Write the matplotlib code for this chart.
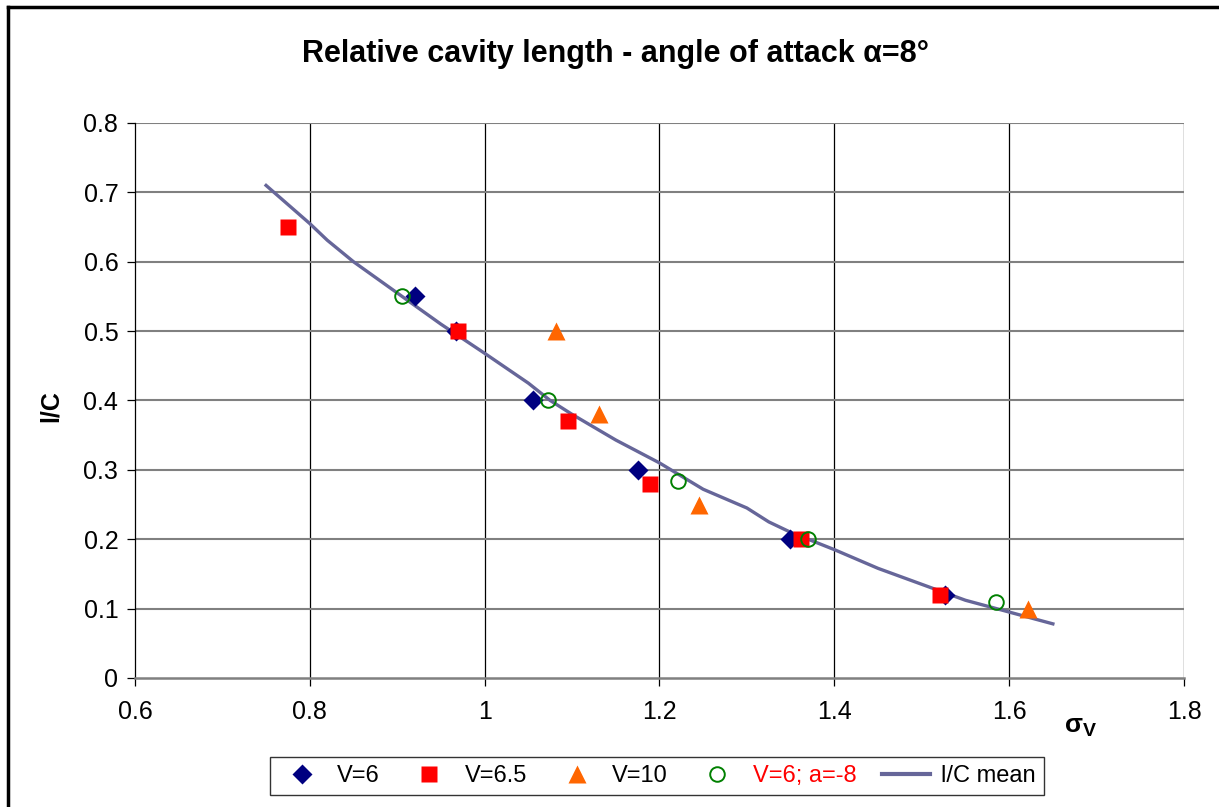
import matplotlib.pyplot as plt
from matplotlib.lines import Line2D

plt.rcParams['font.family'] = ['Liberation Sans', 'DejaVu Sans']

# measured points per velocity
v6_x = [0.92, 0.967, 1.055, 1.176, 1.349, 1.527]
v6_y = [0.55, 0.50, 0.40, 0.30, 0.20, 0.12]

v65_x = [0.775, 0.97, 1.095, 1.189, 1.362, 1.521]
v65_y = [0.65, 0.50, 0.37, 0.28, 0.20, 0.12]

v10_x = [1.082, 1.131, 1.245, 1.621]
v10_y = [0.50, 0.38, 0.25, 0.10]

neg_x = [0.905, 1.0725, 1.221, 1.370, 1.585]
neg_y = [0.55, 0.40, 0.284, 0.20, 0.11]

# mean curve l/C
mean_x = [0.75, 0.8, 0.82, 0.85, 0.9, 0.95, 1.0, 1.05, 1.075, 1.1, 1.15, 1.2,
          1.25, 1.3, 1.325, 1.35, 1.4, 1.45, 1.5, 1.55, 1.6, 1.65]
mean_y = [0.71, 0.655, 0.631, 0.60, 0.555, 0.51, 0.468, 0.425, 0.40, 0.38,
          0.343, 0.31, 0.272, 0.245, 0.225, 0.21, 0.185, 0.158, 0.135, 0.112,
          0.095, 0.078]

x_ticks = [0.6, 0.8, 1.0, 1.2, 1.4, 1.6, 1.8]
x_labels = ['0.6', '0.8', '1', '1.2', '1.4', '1.6', '1.8']
y_ticks = [0, 0.1, 0.2, 0.3, 0.4, 0.5, 0.6, 0.7, 0.8]
y_labels = ['0', '0.1', '0.2', '0.3', '0.4', '0.5', '0.6', '0.7', '0.8']

fig = plt.figure(figsize=(12.19, 8.07), dpi=100)
ax = fig.add_axes([0.1107, 0.1599, 0.8606, 0.6877])

ax.set_xlim(0.6, 1.8)
ax.set_ylim(0, 0.8)
ax.set_xticks(x_ticks)
ax.set_xticklabels(x_labels)
ax.set_yticks(y_ticks)
ax.set_yticklabels(y_labels)

# gridlines: black verticals, grey horizontals
for xv in x_ticks[1:]:
    ax.axvline(xv, color='black', lw=0.9, zorder=1)
for yv in y_ticks[1:]:
    ax.axhline(yv, color='#808080', lw=1.5, zorder=1)

for s in ['top', 'right']:
    ax.spines[s].set_visible(False)
ax.spines['left'].set_color('black')
ax.spines['left'].set_linewidth(0.9)
ax.spines['bottom'].set_color('#808080')
ax.spines['bottom'].set_linewidth(1.8)
ax.tick_params(axis='both', direction='out', length=6, width=0.9,
               labelsize=18, colors='black')
ax.tick_params(axis='y', pad=6)
ax.tick_params(axis='x', pad=10)

ax.plot(mean_x, mean_y, color='#666699', lw=2.4, zorder=3)
ax.plot(v6_x, v6_y, 'D', color='#000080', ms=10.5, mec='none', zorder=4)
ax.plot(v65_x, v65_y, 's', color='#FF0000', ms=11.5, mec='none', zorder=5)
ax.plot(v10_x, v10_y, '^', color='#FF6600', ms=13.5, mec='none', zorder=5)
ax.plot(neg_x, neg_y, 'o', mfc='none', mec='#008000', mew=1.4, ms=10.5,
        zorder=6)

fig.text(0.505, 0.933, 'Relative cavity length - angle of attack α=8°',
         ha='center', va='center', fontsize=22, fontweight='bold')
fig.text(0.042, 0.497, 'l/C', rotation=90, ha='center', va='center',
         fontsize=18, fontweight='bold')
fig.text(0.874, 0.101, 'σ', ha='left', va='center', fontsize=19,
         fontweight='bold')
fig.text(0.8885, 0.093, 'V', ha='left', va='center', fontsize=14,
         fontweight='bold')

handles = [
    Line2D([], [], ls='none', marker='D', color='#000080', ms=10.5, mec='none'),
    Line2D([], [], ls='none', marker='s', color='#FF0000', ms=11.5, mec='none'),
    Line2D([], [], ls='none', marker='^', color='#FF6600', ms=13.5, mec='none'),
    Line2D([], [], ls='none', marker='o', mfc='none', mec='#008000', mew=1.4,
           ms=10.5),
    Line2D([], [], color='#666699', lw=3),
]
labels = ['V=6', 'V=6.5', 'V=10', 'V=6; a=-8', 'l/C mean']
leg = fig.legend(handles, labels, loc='lower center', ncol=5,
                 bbox_to_anchor=(0.539, 0.0), fontsize=17, frameon=True,
                 fancybox=False, edgecolor='black', handlelength=2.0,
                 handletextpad=0.5, columnspacing=1.1, borderpad=0.35)
leg.get_frame().set_linewidth(1.0)
leg.get_texts()[3].set_color('#FF0000')

# outer frame, left and top edges
fig.add_artist(Line2D([0.0066, 0.0066], [0.0, 0.9913], color='black', lw=2.5,
                      transform=fig.transFigure))
fig.add_artist(Line2D([0.0066, 1.0], [0.9913, 0.9913], color='black', lw=2.5,
                      transform=fig.transFigure))

fig.savefig('out.png', dpi=100)
